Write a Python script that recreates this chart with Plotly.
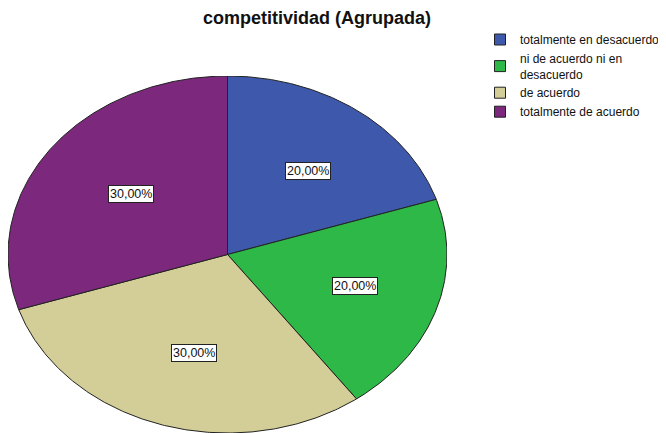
import numpy as np
import plotly.graph_objects as go

categories = ["totalmente en desacuerdo", "ni de acuerdo ni en desacuerdo", "de acuerdo", "totalmente de acuerdo"]
legend_labels = ["totalmente en desacuerdo", "ni de acuerdo ni en<br>desacuerdo", "de acuerdo", "totalmente de acuerdo"]
percentages = [20.0, 20.0, 30.0, 30.0]
colors = ["#3E58AC", "#2EB848", "#D3CE97", "#7C287D"]

# page adds an 8px body margin; figure drawn into 658x425
OFF = 8
W, H = 666 - OFF, 433 - OFF
fig = go.Figure()

total = sum(percentages)
cum = 0.0
label_r = 0.58
FONT = "Liberation Sans, Arial, sans-serif"
for cat, leg, val, col in zip(categories, legend_labels, percentages, colors):
    t0 = np.pi / 2 - 2 * np.pi * cum / total
    t1 = np.pi / 2 - 2 * np.pi * (cum + val) / total
    ts = np.linspace(t0, t1, 200)
    xs = np.concatenate([[0], np.cos(ts), [0]])
    ys = np.concatenate([[0], np.sin(ts), [0]])
    fig.add_trace(go.Scatter(
        x=xs, y=ys, mode="lines", fill="toself", fillcolor=col,
        line=dict(color="#222222", width=1), name=cat, hoverinfo="name",
        showlegend=False,
    ))
    # legend-only entry with square swatch
    fig.add_trace(go.Scatter(
        x=[None], y=[None], mode="markers", name=leg,
        marker=dict(symbol="square", size=11, color=col, line=dict(color="#222222", width=1)),
    ))
    tm = (t0 + t1) / 2
    fig.add_annotation(
        x=label_r * np.cos(tm), y=label_r * np.sin(tm), xshift=6,
        text=f"{val:.2f}%".replace(".", ","), showarrow=False,
        font=dict(family=FONT, size=12.5, color="#111111"),
        bgcolor="white", bordercolor="#222222", borderwidth=1, borderpad=1,
    )
    cum += val

left, right, top, bottom = 8 - OFF, 447 - OFF, 76 - OFF, 433 - OFF
fig.update_layout(
    width=W, height=H,
    margin=dict(l=left, r=W - right, t=top, b=H - bottom, pad=0),
    paper_bgcolor="white", plot_bgcolor="white",
    xaxis=dict(range=[-1.0, 1.0], visible=False, fixedrange=True),
    yaxis=dict(range=[-1.0, 1.0], visible=False, fixedrange=True),
    title=dict(text="<b>competitividad (Agrupada)</b>", x=(317 - OFF) / W, xanchor="center",
               y=1 - (18 - OFF) / H, yanchor="middle", xref="container", yref="container",
               font=dict(family=FONT, size=18, color="#111111")),
    legend=dict(xref="container", yref="container", x=(480 - OFF) / W, y=1 - (25 - OFF) / H,
                xanchor="left", yanchor="top", tracegroupgap=0,
                font=dict(family=FONT, size=12, color="#111111"),
                bgcolor="rgba(0,0,0,0)", itemwidth=30),
    showlegend=True,
)
fig.write_html("out.html")
